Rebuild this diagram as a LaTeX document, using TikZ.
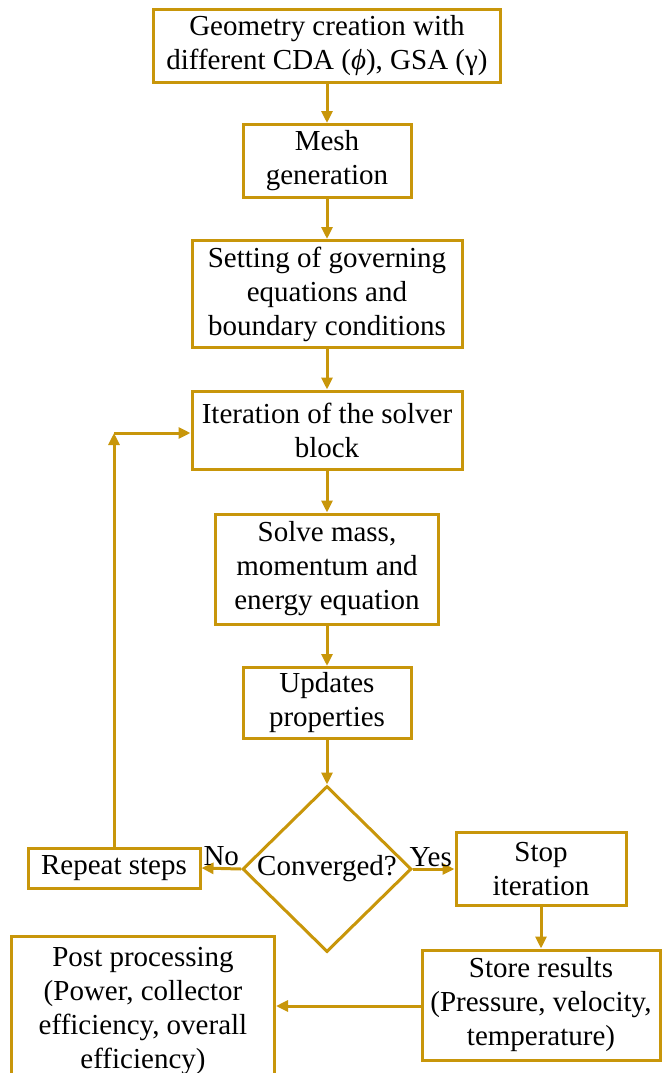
\documentclass[tikz,border=0pt]{standalone}
\usepackage{fontspec}
\setmainfont{Liberation Serif}
\usetikzlibrary{arrows.meta, positioning, shapes.geometric, calc}
\definecolor{cgold}{HTML}{C8960A}
\tikzset{
  every picture/.style={line width=3pt},
  box/.style={draw=cgold, fill=white, align=center, inner sep=2pt, font=\fontsize{29}{34}\selectfont},
  decision/.style={draw=cgold, diamond, inner sep=0pt, minimum width=169pt, minimum height=166pt, label={[font=\fontsize{29}{34}\selectfont]center:#1}},
  arrow/.style={-{Triangle[length=12pt, width=11pt]}, draw=cgold, line width=3pt},
  tag/.style={font=\fontsize{29}{34}\selectfont, inner sep=1pt},
}

\begin{document}
\begin{tikzpicture}[x=1pt, y=-1pt]
  \useasboundingbox (0,0) rectangle (668,1073);
  \node[box, minimum width=347pt, minimum height=72pt] (geo) at (327,46) {Geometry creation with\\different CDA ({\itshape ϕ}), GSA (γ)};
  \node[box, minimum width=168pt, minimum height=73pt] (mesh) at (327,161) {Mesh\\generation};
  \node[box, minimum width=270pt, minimum height=107pt] (gov) at (327,294) {Setting of governing\\equations and\\boundary conditions};
  \node[box, minimum width=270pt, minimum height=78pt] (iter) at (327,430) {Iteration of the solver\\block};
  \node[box, minimum width=223pt, minimum height=110pt] (solve) at (327,569) {Solve mass,\\momentum and\\energy equation};
  \node[box, minimum width=168pt, minimum height=71pt] (upd) at (327,703) {Updates\\properties};
  \node[decision=Converged?] (conv) at (327,869) {};
  \node[box, minimum width=172pt, minimum height=40pt] (rep) at (114,868) {Repeat steps};
  \node[box, minimum width=170pt, minimum height=73pt] (stop) at (541,869) {Stop\\iteration};
  \node[box, minimum width=238pt, minimum height=110pt] (store) at (541,1005) {Store results\\(Pressure, velocity,\\temperature)};
  \node[box, minimum width=263pt, minimum height=150pt] (post) at (143,1011) {Post processing\\(Power, collector\\efficiency, overall\\efficiency)};
  \coordinate (loop) at (114,433);

  % main chain
  \foreach \a/\b in {geo/mesh, mesh/gov, gov/iter, iter/solve, solve/upd, upd/conv, stop/store}
    \draw[arrow] (\a.south) -- (\b.north);
  \draw[arrow] (conv.west) -- node[tag, above] (no) {No} (rep.east);
  \draw[arrow] (conv.east) -- node[tag, above, xshift=-3pt] (yes) {Yes} (stop.west);
  % loop back
  \draw[arrow] (rep.north) -- (loop);
  \draw[arrow] (loop) -- (loop -| iter.west);
  \draw[arrow] (store.west |- 0,1006) -- (post.east |- 0,1006);
\end{tikzpicture}
\end{document}
